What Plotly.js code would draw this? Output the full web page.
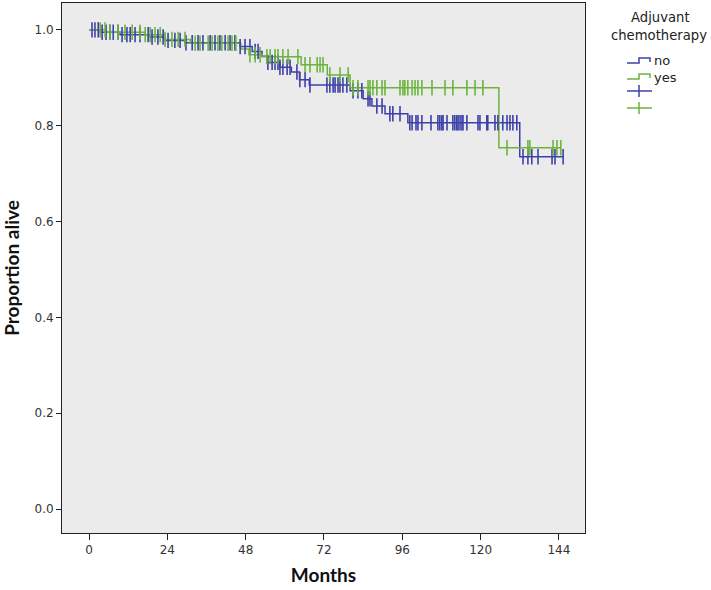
<!DOCTYPE html>
<html>
<head>
<meta charset="utf-8">
<script src="https://cdn.plot.ly/plotly-3.0.1.min.js"></script>
<style>html,body{margin:0;padding:0;background:#fff;}#chart{width:711px;height:590px;}</style>
</head>
<body>
<div id="chart"></div>
<script>
// ---- data ----
const groupNames = ["no", "yes"];
const legendTitleLines = ["Adjuvant", "chemotherapy"];

// "no" group: event times (months) and survival after each event
const noEventMonths = [3.4, 9.5, 18.7, 23.3, 29.4, 46.3, 50.0, 53.0, 54.5, 58.5, 62.0, 64.5, 67.5, 80.0, 84.0, 86.7, 90.7, 97.7, 132.0];
const noSurvival    = [0.995, 0.99, 0.985, 0.978, 0.973, 0.965, 0.955, 0.945, 0.932, 0.922, 0.912, 0.896, 0.885, 0.873, 0.856, 0.841, 0.825, 0.806, 0.735];
const noCensorMonths = [0.9, 1.8, 2.8, 4.0, 5.2, 6.4, 7.4, 8.9, 10.1, 11.6, 12.6, 14.1, 15.6, 18.1, 19.3, 21.1, 22.7, 24.2, 26.3, 27.9, 29.7, 31.6, 33.4, 34.9, 37.1, 38.6, 40.1, 41.7, 43.2, 44.7, 46.3, 47.8, 49.3, 50.9, 51.8,
  54.8, 56.1, 57.0, 57.9, 58.5, 59.4, 60.7, 61.6, 63.7, 64.6, 66.2, 67.7, 72.9, 73.8, 74.8, 75.4, 76.3, 76.9, 77.8, 79.0, 80.9, 82.4, 83.6, 85.5, 86.1, 88.2, 89.8, 92.2, 93.1, 95.3,
  98.3, 99.0, 100.2, 100.8, 102.0, 104.8, 106.9, 107.5, 108.1, 108.5, 109.7, 111.5, 112.1, 112.7, 113.1, 113.7, 114.3, 114.6, 115.8, 119.2, 119.8, 121.9, 122.2, 124.4, 125.3, 126.8, 128.1, 129.0, 129.9, 131.1,
  133.0, 134.5, 135.7, 137.6, 141.9, 142.8, 145.3];

// "yes" group
const yesEventMonths = [5.0, 17.0, 23.0, 31.0, 46.5, 49.0, 53.0, 65.0, 73.0, 80.0, 125.6];
const yesSurvival    = [0.995, 0.99, 0.98, 0.972, 0.96, 0.948, 0.944, 0.927, 0.906, 0.879, 0.754];
const yesCensorMonths = [3.4, 4.9, 6.4, 8.9, 11.0, 13.2, 15.6, 17.2, 18.7, 20.2, 21.8, 23.3, 25.4, 27.3, 29.4, 32.5, 34.0, 36.5, 37.7, 39.5, 40.7, 42.6, 43.8, 45.0, 49.3, 50.9, 52.4,
  54.5, 55.5, 57.0, 57.9, 59.4, 61.0, 64.0, 66.2, 67.7, 69.9, 70.8, 71.7, 73.8, 76.9, 79.4, 80.9, 82.4, 85.5, 86.1, 87.0, 88.2, 89.8, 90.7, 95.3, 96.2, 96.8, 97.7, 99.0, 99.9, 100.8, 102.0,
  105.1, 109.1, 111.5, 115.8, 118.3, 120.7, 128.1, 134.5, 135.1, 142.2, 143.4, 144.6];

const xTickVals = [0, 24, 48, 72, 96, 120, 144];
const yTickVals = [0, 0.2, 0.4, 0.6, 0.8, 1.0];

// ---- helpers ----
function stepLine(evT, evS, censT) {
  const endT = Math.max(...censT, ...evT);
  const x = [0], y = [1];
  evT.forEach((t, i) => { x.push(t); y.push(evS[i]); });
  x.push(endT); y.push(evS[evS.length - 1]);
  return {x, y};
}
function survAt(evT, evS, t) {
  let s = 1;
  evT.forEach((e, i) => { if (e <= t) s = evS[i]; });
  return s;
}

const blue = "rgb(62,64,170)";
const green = "rgb(108,180,62)";

const noLine = stepLine(noEventMonths, noSurvival, noCensorMonths);
const yesLine = stepLine(yesEventMonths, yesSurvival, yesCensorMonths);

const traces = [
  {x: noLine.x, y: noLine.y, mode: "lines", line: {shape: "hv", color: blue, width: 1.5}, name: groupNames[0]},
  {x: yesLine.x, y: yesLine.y, mode: "lines", line: {shape: "hv", color: green, width: 1.5}, name: groupNames[1]},
  {x: noCensorMonths, y: noCensorMonths.map(t => survAt(noEventMonths, noSurvival, t)), mode: "markers",
   marker: {symbol: "line-ns", size: 11, line: {color: blue, width: 1.6}}, name: " "},
  {x: yesCensorMonths, y: yesCensorMonths.map(t => survAt(yesEventMonths, yesSurvival, t)), mode: "markers",
   marker: {symbol: "line-ns", size: 11, line: {color: green, width: 1.6}}, name: " "}
];

// ---- legend drawn as decoration (paper coordinates) ----
const W = 711, H = 590, ML = 62, MR = 126, MT = 3, MB = 57;
const pw = W - ML - MR, ph = H - MT - MB;
const px = v => (v - ML) / pw;
const py = v => (H - MB - v) / ph;
function path(pts) { return pts.map((p, i) => (i ? "L" : "M") + px(p[0]).toFixed(4) + "," + py(p[1]).toFixed(4)).join(" "); }

const shapes = [
  {type: "path", xref: "paper", yref: "paper", path: path([[627,63],[639,63],[639,58],[650,58],[650,62]]), line: {color: blue, width: 1.5}},
  {type: "path", xref: "paper", yref: "paper", path: path([[627,79],[639,79],[639,74],[650,74],[650,78]]), line: {color: green, width: 1.5}},
  {type: "path", xref: "paper", yref: "paper", path: path([[627,91],[652,91]]), line: {color: blue, width: 1.5}},
  {type: "path", xref: "paper", yref: "paper", path: path([[639,85],[639,97]]), line: {color: blue, width: 1.5}},
  {type: "path", xref: "paper", yref: "paper", path: path([[627,108],[652,108]]), line: {color: green, width: 1.5}},
  {type: "path", xref: "paper", yref: "paper", path: path([[639,102],[639,114]]), line: {color: green, width: 1.5}}
];
const legFont = {family: "DejaVu Sans", size: 13.2, color: "#222"};
const annotations = [
  {xref: "paper", yref: "paper", x: px(660), y: py(18), text: legendTitleLines[0], showarrow: false, xanchor: "center", yanchor: "middle", font: legFont},
  {xref: "paper", yref: "paper", x: px(659), y: py(36), text: legendTitleLines[1], showarrow: false, xanchor: "center", yanchor: "middle", font: legFont},
  {xref: "paper", yref: "paper", x: px(652), y: py(61), text: groupNames[0], showarrow: false, xanchor: "left", yanchor: "middle", font: {family: "DejaVu Sans", size: 13, color: "#222"}},
  {xref: "paper", yref: "paper", x: px(652), y: py(78), text: groupNames[1], showarrow: false, xanchor: "left", yanchor: "middle", font: {family: "DejaVu Sans", size: 13, color: "#222"}}
];

const layout = {
  width: W, height: H,
  margin: {l: ML, r: MR, t: MT, b: MB},
  paper_bgcolor: "#ffffff",
  plot_bgcolor: "rgb(235,235,235)",
  font: {family: "DejaVu Sans", size: 12, color: "#222"},
  xaxis: {
    range: [-8.3, 152], tickvals: xTickVals, ticks: "outside", ticklen: 6, tickcolor: "#222",
    showgrid: false, zeroline: false, showline: true, linecolor: "#222", linewidth: 1, mirror: true,
    title: {text: "Months", font: {family: "Lato", size: 19, color: "#111", weight: "bold"}, standoff: 12},
    tickfont: {family: "DejaVu Sans", size: 12, color: "#333"}
  },
  yaxis: {
    range: [-0.05, 1.056], tickvals: yTickVals, tickformat: ".1f", ticks: "outside", ticklen: 5, tickcolor: "#222",
    showgrid: false, zeroline: false, showline: true, linecolor: "#222", linewidth: 1, mirror: true,
    title: {text: "Proportion alive", font: {family: "Lato", size: 19, color: "#111", weight: "bold"}, standoff: 10},
    tickfont: {family: "DejaVu Sans", size: 12, color: "#333"}
  },
  showlegend: false,
  shapes: shapes,
  annotations: annotations
};

Plotly.newPlot("chart", traces, layout, {displayModeBar: false, staticPlot: true});
</script>
</body>
</html>
